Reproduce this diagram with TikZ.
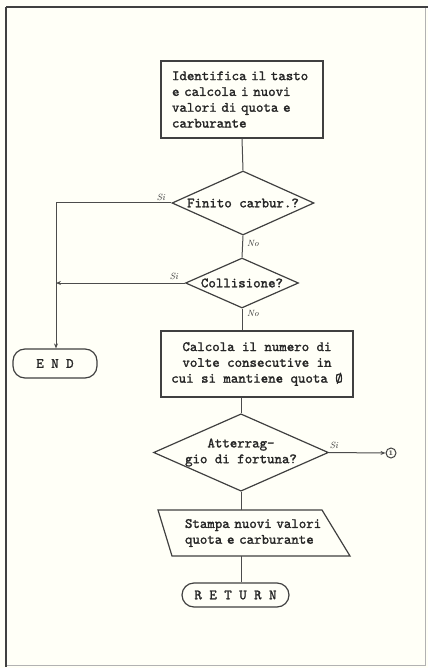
\documentclass[tikz,border=0pt]{standalone}
\usepackage{fontspec}
\newfontfamily\twfont{lmmono10-regular.otf}[FakeBold=1.6]
\usetikzlibrary{shapes.geometric,arrows.meta}
\begin{document}
\begin{tikzpicture}[x=1pt,y=-1pt,
  every node/.style={font=\fontsize{14.2}{15.8}\selectfont\twfont\bfseries, text=black!85},
  box/.style={draw=black!75, line width=1.2pt, inner sep=0pt},
  dia/.style={draw=black!75, line width=1.2pt, diamond, inner sep=0pt, align=center},
  term/.style={draw=black!75, line width=1.2pt, rounded corners=12pt, inner sep=0pt},
  conn/.style={draw=black!70, line width=1pt},
  arr/.style={conn, -{Stealth[length=5pt,width=4pt]}},
  lab/.style={font=\fontsize{9}{9}\selectfont\rmfamily\itshape, text=black!80}
]
\useasboundingbox (0,0) rectangle (428,668);
\fill[fill=white!97!yellow] (0,0) rectangle (428,668);
% frame
\draw[black!30, line width=0.6pt] (6,7) rectangle (425,665);
\draw[black!75, line width=1.6pt] (6,7) -- (428,7);
\draw[black!75, line width=2.6pt] (6,7) -- (6,667);

\node[box, minimum width=162pt, minimum height=77pt, text width=140pt, align=left] (b1) at (242,99.5)
  {Identifica il tasto\\e calcola i nuovi\\valori di quota e\\carburante};
\node[dia, aspect=2.2, minimum width=142pt, minimum height=64pt] (d1) at (243,203) {Finito carbur.?};
\node[dia, aspect=2.26, minimum width=113pt, minimum height=50pt] (d2) at (242,283) {Collisione?};
\node[box, minimum width=192pt, minimum height=66pt, align=center] (b2) at (257,364)
  {Calcola il numero di\\volte consecutive in\\cui si mantiene quota Ø};
\node[dia, aspect=2.26, minimum width=174pt, minimum height=77pt] (d3) at (241,452.5) {Atterrag-\\gio di fortuna?};
\node[inner sep=0pt, minimum width=160pt, minimum height=46pt, text width=140pt, align=left] (pr) at (255,533)
  {Stampa nuovi valori\\quota e carburante};
\draw[black!75, line width=1.2pt] (158,510) -- (322,510) -- (350,556) -- (172,556) -- cycle;
\node[term, minimum width=107pt, minimum height=24pt] (ret) at (235.5,595) {R E T U R N};
\node[term, minimum width=84pt, minimum height=29pt] (end) at (55,363.5) {E N D};
\node[draw=black!75, line width=1pt, circle, inner sep=0pt, minimum size=10pt,
  font=\fontsize{7}{7}\selectfont\rmfamily\bfseries] (c1) at (391,453) {1};

\coordinate (j1) at (56,203);
\coordinate (j2) at (56,283);

% main column
\draw[conn] (b1.south) -- (d1.north);
\draw[conn] (d1.south) -- (d2.north);
\draw[conn] (d2.south) -- (b2.north -| d2.south);
\draw[conn] (b2.south -| d3.north) -- (d3.north);
\draw[conn] (d3.south) -- (d3.south |- pr.north);
\draw[conn] (d3.south |- pr.south) -- (d3.south |- ret.north);

% side branches
\draw[conn] (d1.west) -- (j1);
\draw[arr] (j1) -- (j1 |- end.north);
\draw[arr] (d2.west) -- (j2);
\draw[arr] (d3.east) -- (c1.west);

% labels
\node[lab] at (161,197) {Si};
\node[lab] at (174,276) {Si};
\node[lab] at (334,445) {Si};
\node[lab] at (253,243) {No};
\node[lab] at (253,313) {No};
\end{tikzpicture}
\end{document}
